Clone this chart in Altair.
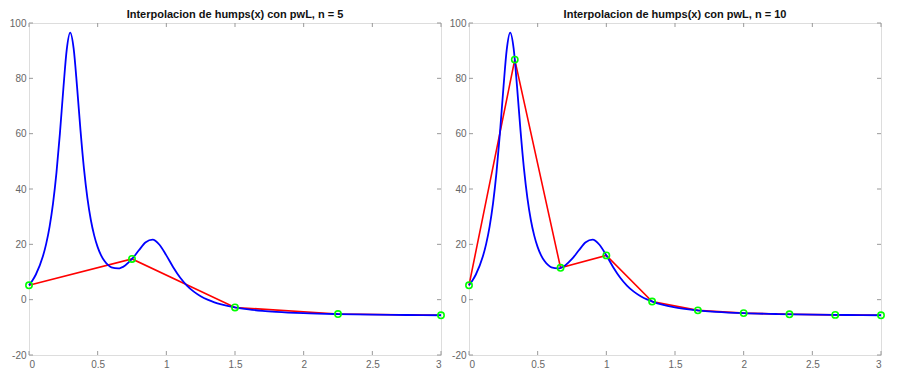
import altair as alt
import pandas as pd

# humps(x) curve, values
xx = [0, 0.025, 0.05, 0.1, 0.125, 0.15, 0.175, 0.2, 0.225, 0.25, 0.275, 0.3,
      0.325, 0.35, 0.375, 0.4, 0.425, 0.45, 0.475, 0.5, 0.525, 0.55, 0.575,
      0.6, 0.65, 0.7, 0.75, 0.8, 0.85, 0.9, 0.95, 1.0, 1.05, 1.1, 1.15, 1.2,
      1.25, 1.3, 1.35, 1.4, 1.5, 1.6, 1.7, 1.8, 2.0, 2.25, 2.5, 2.75, 3.0]
yy = [5.18, 6.92, 9.10, 15.47, 20.18, 26.43, 34.79, 45.89, 60.02, 76.16, 90.44, 96.50,
      90.82, 76.92, 61.17, 47.45, 36.79, 28.89, 23.15, 19.00, 16.03, 13.95, 12.55,
      11.69, 11.30, 12.38, 14.71, 17.85, 20.73, 21.70, 19.84, 16.00, 11.75, 8.04, 5.12, 2.91,
      1.25, -0.01, -0.98, -1.73, -2.81, -3.52, -4.02, -4.38, -4.86, -5.20, -5.41, -5.54, -5.64]

# interpolation nodes
x5 = [0, 0.75, 1.5, 2.25, 3.0]
y5 = [5.18, 14.71, -2.81, -5.20, -5.64]
x10 = [0, 1/3, 2/3, 1.0, 4/3, 5/3, 2.0, 7/3, 8/3, 3.0]
y10 = [5.18, 86.77, 11.51, 16.00, -0.68, -3.87, -4.86, -5.28, -5.51, -5.64]

titles = ["Interpolacion de humps(x) con pwL, n = 5",
          "Interpolacion de humps(x) con pwL, n = 10"]
x_ticks = [0, 0.5, 1, 1.5, 2, 2.5, 3]
y_ticks = [-20, 0, 20, 40, 60, 80, 100]

W, H = 412, 332
FONT = "Liberation Sans"

curve = pd.DataFrame({"x": xx, "y": yy})
xt = pd.DataFrame({"x": x_ticks})
yt = pd.DataFrame({"y": y_ticks})

xs = alt.Scale(domain=[0, 3], nice=False, zero=False)
ys = alt.Scale(domain=[-20, 100], nice=False, zero=False)
xax = alt.Axis(values=x_ticks, labelExpr="toString(datum.value)", ticks=False, domain=False,
               grid=False, labelColor="#666666", labelFontSize=10, labelFont=FONT,
               labelPadding=4, title=None, minExtent=0)
yax = alt.Axis(values=y_ticks, labelExpr="toString(datum.value)", ticks=False, domain=False,
               grid=False, labelColor="#666666", labelFontSize=10, labelFont=FONT,
               labelPadding=3, title=None, minExtent=0)

TICK = "#999999"


def panel(nx, ny, title):
    nodes = pd.DataFrame({"x": nx, "y": ny})
    base_x = alt.X("x:Q", scale=xs, axis=xax)
    base_y = alt.Y("y:Q", scale=ys, axis=yax)
    red = alt.Chart(nodes).mark_line(color="#ff0000", strokeWidth=1.6).encode(x=base_x, y=base_y)
    blue = alt.Chart(curve).mark_line(color="#0000ff", strokeWidth=1.8,
                                      interpolate="monotone").encode(x=base_x, y=base_y)
    pts = alt.Chart(nodes).mark_point(shape="circle", filled=False, color="#00ff00",
                                      size=40, strokeWidth=1.6, opacity=1).encode(x=base_x, y=base_y)
    xb = alt.Chart(xt).mark_rule(color=TICK, strokeWidth=1).encode(
        x=base_x, y=alt.value(H), y2=alt.value(H - 4))
    xtop = alt.Chart(xt).mark_rule(color=TICK, strokeWidth=1).encode(
        x=base_x, y=alt.value(0), y2=alt.value(4))
    yl = alt.Chart(yt).mark_rule(color=TICK, strokeWidth=1).encode(
        y=base_y, x=alt.value(0), x2=alt.value(4))
    yr = alt.Chart(yt).mark_rule(color=TICK, strokeWidth=1).encode(
        y=base_y, x=alt.value(W), x2=alt.value(W - 4))
    return alt.layer(red, blue, pts, xb, xtop, yl, yr).properties(
        width=W, height=H,
        title=alt.TitleParams(title, font=FONT, fontSize=11, fontWeight="bold",
                              color="#111111", offset=-2, anchor="middle"))


chart = alt.hconcat(panel(x5, y5, titles[0]), panel(x10, y10, titles[1]),
                    spacing=0).properties(
    padding={"left": 0, "top": 0, "right": 0, "bottom": 0}
).configure_view(stroke="#999999", strokeWidth=1).configure(background="white")

chart.save("out.html", embed_options={"renderer": "svg", "actions": False})
